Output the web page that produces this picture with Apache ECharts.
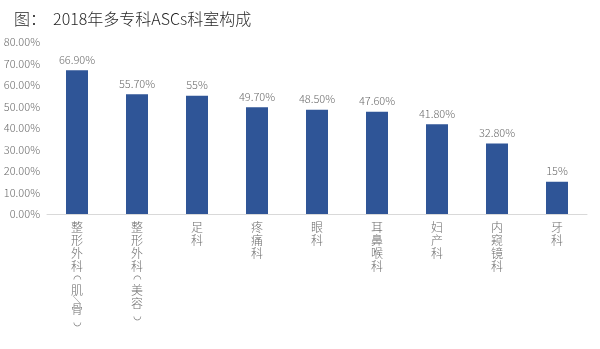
<!DOCTYPE html>
<html>
<head>
<meta charset="utf-8">
<script src="https://cdn.jsdelivr.net/npm/echarts@6/dist/echarts.min.js"></script>
<style>
  html, body { margin: 0; padding: 0; background: #fff; }
  #chart { width: 600px; height: 349px; }
</style>
</head>
<body>
<div id="chart"></div>
<script>
// Departments of multi-specialty ambulatory surgery centers, 2018
const categories = ['整形外科（肌/骨）', '整形外科（美容）', '足科', '疼痛科', '眼科', '耳鼻喉科', '妇产科', '内窥镜科', '牙科'];
const shares = [66.9, 55.7, 55, 49.7, 48.5, 47.6, 41.8, 32.8, 15];
const yTicks = [0, 10, 20, 30, 40, 50, 60, 70, 80];

const FONT = '"Noto Sans CJK SC", "Noto Sans", sans-serif';
const TEXT_GREY = '#6b6b6b';

// Stack the category name one character per line, brackets turned for vertical reading
function verticalName(name) {
  return name.split('').map(ch => {
    if (ch === '（') return '{p|◠}';
    if (ch === '）') return '{p|◡}';
    if (ch === '/') return '{s|╲}';
    return '{c|' + ch + '}';
  }).join('\n');
}

function pct(v) {
  return Number.isInteger(v) ? v + '%' : v.toFixed(2) + '%';
}

const chart = echarts.init(document.getElementById('chart'), null, { renderer: 'canvas' });
chart.setOption({
  animation: false,
  title: {
    text: '图：  2018年多专科ASCs科室构成',
    left: 9,
    top: 6,
    textStyle: { fontFamily: FONT, fontSize: 16, fontWeight: 300, color: '#262626' }
  },
  grid: { left: 47, right: 13, top: 42, bottom: 135, containLabel: false },
  xAxis: {
    type: 'category',
    data: categories,
    axisLine: { lineStyle: { color: '#d9d9d9', width: 1 } },
    axisTick: { show: false },
    axisLabel: {
      interval: 0,
      margin: 7,
      fontFamily: FONT,
      fontSize: 12,
      fontWeight: 300,
      lineHeight: 13,
      color: TEXT_GREY,
      verticalAlign: 'top',
      formatter: verticalName,
      rich: {
        c: { fontFamily: FONT, fontSize: 12, fontWeight: 300, lineHeight: 13, color: TEXT_GREY },
        p: { fontFamily: FONT, fontSize: 10, fontWeight: 300, lineHeight: 10.5, color: TEXT_GREY },
        s: { fontFamily: FONT, fontSize: 8, fontWeight: 300, lineHeight: 6, color: TEXT_GREY }
      }
    }
  },
  yAxis: {
    type: 'value',
    min: yTicks[0],
    max: yTicks[yTicks.length - 1],
    interval: 10,
    axisLine: { show: false },
    axisTick: { show: false },
    splitLine: { show: false },
    axisLabel: {
      margin: 7,
      fontFamily: FONT,
      fontSize: 11,
      fontWeight: 300,
      color: TEXT_GREY,
      formatter: v => v.toFixed(2) + '%'
    }
  },
  series: [{
    type: 'bar',
    data: shares,
    barWidth: 22,
    itemStyle: { color: '#2f5597' },
    label: {
      show: true,
      position: 'top',
      distance: 5,
      fontFamily: FONT,
      fontSize: 11,
      fontWeight: 300,
      color: TEXT_GREY,
      formatter: p => pct(p.value)
    }
  }]
});
</script>
</body>
</html>
